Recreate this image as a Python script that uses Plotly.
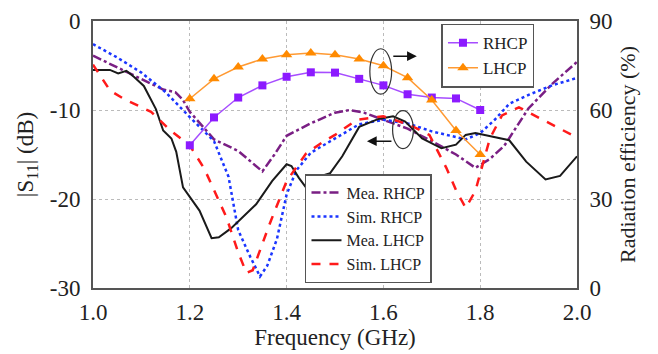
import plotly.graph_objects as go

# ---------------- data ----------------
eff_freq = [1.2, 1.25, 1.3, 1.35, 1.4, 1.45, 1.5, 1.55, 1.6, 1.65, 1.7, 1.75, 1.8]
eff_rhcp = [48.1, 57.5, 64.2, 68.3, 71.2, 72.7, 72.6, 70.5, 68.3, 65.3, 64.2, 63.9, 60.0]
eff_lhcp = [63.8, 70.5, 74.5, 77.2, 78.6, 79.2, 78.6, 77.2, 74.9, 70.9, 63.4, 53.1, 45.0]

mea_rhcp_f = [1.0, 1.05, 1.1, 1.145, 1.17, 1.185, 1.2, 1.25, 1.3, 1.35, 1.375, 1.4, 1.45,
              1.5, 1.53, 1.56, 1.6, 1.65, 1.7, 1.75, 1.79, 1.82, 1.85, 1.9, 1.95, 2.0]
mea_rhcp_db = [-3.9, -5.2, -6.5, -7.7, -8.0, -8.8, -10.2, -13.3, -14.6, -16.9, -15.0, -12.9, -11.5,
               -10.3, -10.0, -10.3, -11.1, -12.1, -13.5, -15.0, -16.5, -15.5, -14.0, -9.8, -7.0, -4.6]

sim_rhcp_f = [1.0, 1.05, 1.1, 1.15, 1.2, 1.25, 1.28, 1.3, 1.325, 1.345, 1.36, 1.38, 1.4, 1.42,
              1.45, 1.5, 1.55, 1.6, 1.65, 1.7, 1.75, 1.77, 1.8, 1.83, 1.86, 1.9, 1.95, 2.0]
sim_rhcp_db = [-2.6, -4.1, -5.8, -8.0, -10.8, -13.5, -17.5, -23.5, -26.5, -28.7, -27.5, -24.5, -19.5, -16.8,
               -14.8, -13.2, -11.6, -11.1, -11.5, -12.4, -13.1, -13.3, -12.6, -11.1, -9.3, -8.3, -7.2, -6.4]

mea_lhcp_f = [1.0, 1.035, 1.052, 1.069, 1.085, 1.105, 1.13, 1.145, 1.162, 1.172, 1.186, 1.22, 1.245,
              1.26, 1.285, 1.337, 1.37, 1.4, 1.41, 1.425, 1.44, 1.46, 1.49, 1.515, 1.55, 1.59, 1.62,
              1.645, 1.68, 1.72, 1.75, 1.77, 1.79, 1.84, 1.86, 1.895, 1.935, 1.965, 2.0]
mea_lhcp_db = [-5.5, -5.5, -5.9, -5.6, -6.3, -7.3, -9.9, -12.3, -13.2, -14.7, -18.7, -21.3, -24.4,
               -24.3, -23.3, -20.6, -18.0, -16.1, -16.3, -17.6, -18.7, -17.6, -17.1, -15.2, -11.9, -11.0, -10.7,
               -11.3, -13.2, -14.3, -13.9, -12.8, -12.6, -13.2, -13.4, -15.8, -17.8, -17.4, -15.2]

sim_lhcp_f = [1.0, 1.035, 1.065, 1.12, 1.16, 1.2, 1.23, 1.276, 1.3, 1.317, 1.33, 1.35, 1.365, 1.4,
              1.42, 1.44, 1.475, 1.5, 1.545, 1.6, 1.655, 1.695, 1.73, 1.75, 1.77, 1.79, 1.82, 1.845,
              1.88, 1.935, 2.0]
sim_lhcp_db = [-4.9, -7.8, -8.8, -10.2, -12.3, -14.0, -16.6, -22.1, -26.0, -28.3, -28.0, -25.0, -22.8, -18.0,
               -16.5, -14.9, -13.6, -12.8, -11.1, -10.7, -11.7, -12.8, -16.5, -19.0, -21.0, -19.1, -13.2, -10.6,
               -9.7, -11.3, -13.1]

x_ticks = [1.0, 1.2, 1.4, 1.6, 1.8, 2.0]
y1_ticks = [0, -10, -20, -30]
y2_ticks = [0, 30, 60, 90]

FONT = "Liberation Serif, Times New Roman, serif"

fig = go.Figure()

fig.add_trace(go.Scatter(x=mea_rhcp_f, y=mea_rhcp_db, name="Mea. RHCP", mode="lines",
                         line=dict(color="#7A1F84", width=2.5, dash="dashdot"), legend="legend2"))
fig.add_trace(go.Scatter(x=sim_rhcp_f, y=sim_rhcp_db, name="Sim. RHCP", mode="lines",
                         line=dict(color="#1A35FF", width=2.5, dash="dot"), legend="legend2"))
fig.add_trace(go.Scatter(x=mea_lhcp_f, y=mea_lhcp_db, name="Mea. LHCP", mode="lines",
                         line=dict(color="#1A1A1A", width=2), legend="legend2"))
fig.add_trace(go.Scatter(x=sim_lhcp_f, y=sim_lhcp_db, name="Sim. LHCP", mode="lines",
                         line=dict(color="#FF1A1A", width=2.5, dash="dash"), legend="legend2"))

fig.add_trace(go.Scatter(x=eff_freq, y=eff_rhcp, name="RHCP", mode="lines+markers", yaxis="y2",
                         line=dict(color="#A64DFF", width=1.5),
                         marker=dict(symbol="square", size=8, color="#8C1AFF"), legend="legend"))
fig.add_trace(go.Scatter(x=eff_freq, y=eff_lhcp, name="LHCP", mode="lines+markers", yaxis="y2",
                         line=dict(color="#FF9A33", width=1.5),
                         marker=dict(symbol="triangle-up", size=10, color="#FF8A00"), legend="legend"))

axis_line = dict(showline=True, linecolor="#555555", linewidth=2)

# page has an 8px body margin, so the figure is offset by 8px
fig.update_layout(
    width=650, height=346,
    margin=dict(l=85, r=81, t=13, b=66),
    paper_bgcolor="white", plot_bgcolor="white",
    font=dict(family=FONT, size=22, color="#222222"),
    xaxis=dict(range=[1.0, 2.0], tickvals=x_ticks, ticktext=[f"{v:.1f}" for v in x_ticks],
               showgrid=True, gridcolor="#BBBBBB", griddash="dot", gridwidth=1,
               zeroline=False, mirror=True, ticks="", automargin=False,
               ticklabelstandoff=2, ticklabeloverflow="allow",
               title=dict(text="Frequency (GHz)", font=dict(size=23), standoff=2),
               tickfont=dict(size=23), **axis_line),
    yaxis=dict(range=[-30, 0], tickvals=y1_ticks, ticktext=[str(v) for v in y1_ticks],
               showgrid=True, gridcolor="#BBBBBB", griddash="dot", gridwidth=1,
               zeroline=False, mirror=True, ticks="", automargin=False,
               ticklabelstandoff=6, ticklabeloverflow="allow",
               title=dict(text="|S<sub>11</sub>| (dB)", font=dict(size=23), standoff=10),
               tickfont=dict(size=23), **axis_line),
    yaxis2=dict(range=[0, 90], tickvals=y2_ticks, ticktext=[str(v) for v in y2_ticks],
                overlaying="y", side="right", showgrid=False, zeroline=False, ticks="",
                automargin=False, ticklabelstandoff=6, ticklabeloverflow="allow",
                title=dict(text="Radiation efficiency (%)", font=dict(size=22), standoff=8),
                tickfont=dict(size=23), **axis_line),
    legend=dict(x=0.72, y=0.99, xanchor="left", yanchor="top",
                bgcolor="white", bordercolor="#555555", borderwidth=1.5,
                font=dict(size=17, family=FONT), itemwidth=30, tracegroupgap=0),
    legend2=dict(x=0.438, y=0.018, xanchor="left", yanchor="bottom",
                 bgcolor="white", bordercolor="#555555", borderwidth=1.5,
                 font=dict(size=16, family=FONT), itemwidth=30, tracegroupgap=0),
    showlegend=True,
)

# ellipse annotations
fig.add_shape(type="circle", xref="paper", yref="paper",
              x0=0.572, x1=0.617, y0=0.726, y1=0.896,
              line=dict(color="#333333", width=1.2))
fig.add_shape(type="circle", xref="paper", yref="paper",
              x0=0.619, x1=0.662, y0=0.522, y1=0.664,
              line=dict(color="#333333", width=1.2))
fig.add_annotation(xref="paper", yref="paper", x=0.669, y=0.868, ax=-25, ay=0,
                   text="", showarrow=True, arrowhead=2, arrowsize=1.3, arrowwidth=1.5,
                   arrowcolor="#111111")
fig.add_annotation(xref="paper", yref="paper", x=0.566, y=0.550, ax=26, ay=0,
                   text="", showarrow=True, arrowhead=2, arrowsize=1.3, arrowwidth=1.5,
                   arrowcolor="#111111")

fig.write_html("out.html")
